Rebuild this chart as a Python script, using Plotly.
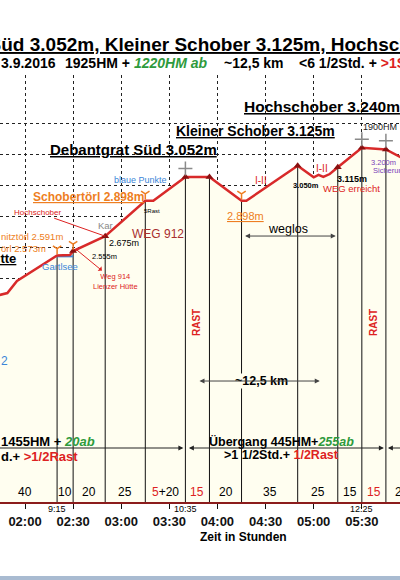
import numpy as np
import plotly.graph_objects as go

# ---------------- data ----------------
profile_min = [100, 109, 115, 140, 148, 150, 170, 195, 200, 220, 235, 255, 258,
               290, 300, 303, 306, 310, 315, 330, 345, 356]
profile_elev = [2280, 2303, 2381, 2545, 2548, 2574, 2670, 2898, 2898, 3052, 3052,
                2898, 2898, 3125, 3050, 3065, 3052, 3071, 3115, 3240, 3230, 3170]

walk_start_min = 100
segment_minutes = [40, 10, 20, 25, 25, 15, 20, 35, 25, 15, 15, 20]
segment_labels = ["40", "10", "20", "25", "5+20", "15", "20", "35", "25", "15", "15", "20"]
rest_segments = [5, 10]

tick_minutes = [120, 150, 180, 210, 240, 270, 300, 330, 360]
tick_labels = ["02:00", "02:30", "03:00", "03:30", "04:00", "04:30", "05:00", "05:30", "06:00"]

clock_minutes = [140, 220, 330]
clock_labels = ["9:15", "10:35", "12:25"]

grid_elev = [2400, 2600, 2800, 3000, 3200, 3400]

marker_minutes = [150, 170, 220, 235, 290, 315, 330, 345]
summit_cross_minutes = [220, 330, 345]
sign_minutes = [140, 150, 195, 255]
lake_minutes = [140, 150]
lake_elev = [2540, 2540]

ascent_span = [95, 220]
traverse_span = [220, 345]
descent_span = [345, 375]
weglos_span = [255, 315]
distance_span = [226.6, 305]

# ---------------- styling ----------------
FONT = "Liberation Sans, Arial, sans-serif"
RED_LINE = "#D82A2A"
RED_TXT = "#DD2222"
DARK_RED = "#A82E2E"
ORANGE = "#EE7E22"
GREEN = "#2E9A3C"
BLUE = "#3C86D8"
PURPLE = "#7A3FB8"
CREAM = "#FFFEF0"

X_LO, X_HI = 104.41, 353.79
Y_LO, Y_HI = 955, 3710
W, H = 400, 580
TOP, BOT = 75, 502


def P(px, py):
    return px / W, (BOT - py) / (BOT - TOP)


def tx(t):
    return (t - X_LO) / (X_HI - X_LO)


def elev_at(t):
    return float(np.interp(t, profile_min, profile_elev))


bounds = list(walk_start_min + np.cumsum([0] + segment_minutes))

fig = go.Figure()

# fill under profile
fig.add_trace(go.Scatter(x=profile_min, y=profile_elev, mode="lines",
                         line=dict(width=0), fill="tozeroy", fillcolor=CREAM,
                         hoverinfo="skip", showlegend=False))

# vertical segment boundaries
vx, vy = [], []
for b in bounds:
    vx += [b, b, None]
    vy += [elev_at(b), 0, None]
fig.add_trace(go.Scatter(x=vx, y=vy, mode="lines", line=dict(color="#111", width=1),
                         hoverinfo="skip", showlegend=False))

# lake
fig.add_trace(go.Scatter(x=lake_minutes, y=lake_elev, mode="lines",
                         line=dict(color=BLUE, width=2), showlegend=False))

# profile line
fig.add_trace(go.Scatter(x=profile_min, y=profile_elev, mode="lines",
                         line=dict(color=RED_LINE, width=2.5), showlegend=False))

# markers
fig.add_trace(go.Scatter(x=marker_minutes, y=[elev_at(t) for t in marker_minutes],
                         mode="markers",
                         marker=dict(symbol="triangle-up", size=7, color="#8A1010"),
                         showlegend=False))

# summit crosses
fig.add_trace(go.Scatter(x=summit_cross_minutes,
                         y=[elev_at(t) + 55 for t in summit_cross_minutes],
                         mode="markers",
                         marker=dict(symbol="cross-thin-open", size=10, color="#8A8A8A",
                                     line=dict(color="#8A8A8A", width=1.5)),
                         showlegend=False))

# signposts
fig.add_trace(go.Scatter(x=sign_minutes, y=[elev_at(t) + 45 for t in sign_minutes],
                         mode="markers",
                         marker=dict(symbol="y-down-open", size=7, color=ORANGE,
                                     line=dict(color=ORANGE, width=1.5)),
                         showlegend=False))

anns = []


def label(text, px, py, size, color="#000", anchor="center", angle=0, bg=None):
    x, y = P(px, py)
    d = dict(text=text, x=x, y=y, xref="paper", yref="paper", showarrow=False,
             xanchor=anchor, yanchor="middle", textangle=angle, borderpad=0,
             font=dict(family=FONT, size=size, color=color))
    if bg:
        d["bgcolor"] = bg
    anns.append(d)


# titles
label("<b><u>Debantgrat Süd 3.052m, Kleiner Schober 3.125m, Hochschober 3.240m</u></b>",
      -118, 45, 19, anchor="left")
label("<b>3.9.2016</b>", 0, 63, 14, anchor="left")
label("<b>1925HM + <i><span style='color:%s'>1220HM ab</span></i></b>" % GREEN,
      64, 63, 14, anchor="left")
label("<b>~12,5 km</b>", 223, 63, 14, anchor="left")
label("<b>&lt;6 1/2Std. + <span style='color:%s'>&gt;1Std. Rast</span></b>" % RED_TXT,
      298, 63, 14, anchor="left")

# summit labels
label("<b><u>Hochschober 3.240m</u></b>", 243, 107, 15.5, anchor="left")
label("1900HM", 362, 127, 9, color="#222", anchor="left")
label("<b><u>Kleiner Schober 3.125m</u></b>", 175, 131, 14, anchor="left")
label("<b><u>Debantgrat Süd 3.052m</u></b>", 49, 149, 15, anchor="left")
label("blaue Punkte", 140, 180, 9, color=BLUE)
label("<b><u>Schobertörl 2.898m</u></b>", 32, 197, 12, color=ORANGE, anchor="left")
label("Kar", 105, 226, 9.5, color="#888")
label("2.675m", 124, 243, 9)
label("WEG 912", 158, 234, 12, color=DARK_RED)
label("5Rast", 152, 211, 6)
label("nitztörl 2.591m", 0, 236, 9.5, color=ORANGE, anchor="left")
label("örl 2.573m", 0, 248, 9.5, color=ORANGE, anchor="left")
label("<b><u>Lienzer Hütte</u></b>", 17, 258, 13, anchor="right")
label("2.555m", 104, 256, 7.5)
label("Gartlsee", 60, 266, 9.5, color=BLUE)
label("2", 0, 361, 12, color=BLUE, anchor="left")
label("I-II", 261, 180, 10, color=RED_TXT)
label("I-II", 322, 168, 10, color=RED_TXT)
label("<u>2.898m</u>", 245, 216, 11, color=ORANGE)
label("weglos", 288, 229, 12.5)
label("<b>3.050m</b>", 306, 185, 7.5)
label("<b>3.115m</b>", 352, 179, 9)
label("WEG erreicht", 351, 188, 9.5, color=RED_TXT)
label("3.200m", 383, 162, 7.5, color=PURPLE)
label("Sicherungen", 372, 170, 7.5, color=PURPLE, anchor="left")
label("<b>RAST</b>", 196, 323, 10, color=RED_TXT, angle=-90)
label("<b>RAST</b>", 373, 323, 10, color=RED_TXT, angle=-90)
label("<b>~12,5 km</b>", 261, 381, 12.5, bg=CREAM)

# bottom summary
label("<b>1455HM + <i><span style='color:%s'>20ab</span></i></b>" % GREEN, 0, 441, 13, anchor="left")
label("<b>d.+ <span style='color:%s'>&gt;1/2Rast</span></b>" % RED_TXT, 0, 456, 13, anchor="left")
label("<b>Übergang 445HM+<i><span style='color:%s'>255ab</span></i></b>" % GREEN, 208, 441, 12.5, anchor="left")
label("<b>&gt;1 1/2Std.+ <span style='color:%s'>1/2Rast</span></b>" % RED_TXT, 223, 455, 12.5, anchor="left")
label("<b>Zeit in Stunden</b>", 243, 537, 12)

# durations
for i, lab in enumerate(segment_labels):
    c = (bounds[i] + bounds[i + 1]) / 2
    col = RED_TXT if i in rest_segments else "#000"
    text = lab
    if lab == "5+20":
        text = "<span style='color:%s'>5</span>+20" % RED_TXT
    anns.append(dict(text=text, x=tx(c), y=P(0, 492)[1], xref="paper", yref="paper",
                     showarrow=False, xanchor="center", yanchor="middle",
                     font=dict(family=FONT, size=12, color=col)))

# clock times
for t, lab in zip(clock_minutes, clock_labels):
    anns.append(dict(text=lab, x=tx(t), y=P(0, 509)[1], xref="paper", yref="paper",
                     showarrow=False, xanchor="center", yanchor="middle",
                     font=dict(family=FONT, size=9, color="#000")))

# leader lines
anns.append(dict(text="Hochschober", x=170, y=elev_at(170), xref="x", yref="y",
                 ax=-68, ay=-24, showarrow=True, arrowhead=0, arrowwidth=1,
                 arrowcolor=RED_TXT, font=dict(family=FONT, size=8, color=RED_TXT)))
anns.append(dict(text="Weg 914<br>Lienzer Hütte", x=152, y=elev_at(152), xref="x", yref="y",
                 ax=39, ay=32, showarrow=True, arrowhead=2, arrowside="start",
                 arrowsize=0.8, arrowwidth=1, arrowcolor=RED_TXT,
                 font=dict(family=FONT, size=7.5, color=RED_TXT)))


def span_arrow(span, yv, yref, side="end+start", color="#444"):
    d = dict(text="", x=span[1], ax=span[0], xref="x", axref="x",
             showarrow=True, arrowhead=2, arrowsize=1, arrowwidth=1,
             arrowcolor=color, arrowside=side, standoff=2, startstandoff=2)
    if yref == "y":
        d.update(y=yv, ay=yv, yref="y", ayref="y")
    else:
        d.update(y=yv, ay=0, yref="paper", ayref="pixel")
    anns.append(d)


span_arrow(weglos_span, 3200 + (154 - 236) / 0.155, "y")
span_arrow(distance_span, 3200 + (154 - 381) / 0.155, "y")
yb = P(0, 448)[1]
span_arrow(ascent_span, yb, "paper", side="end", color="#222")
span_arrow(traverse_span, yb, "paper", color="#222")
anns.append(dict(text="", x=descent_span[0], ax=descent_span[1], xref="x", axref="x",
                 y=yb, ay=0, yref="paper", ayref="pixel", showarrow=True, arrowhead=2,
                 arrowwidth=1, arrowcolor="#222", standoff=2))

fig.update_layout(
    width=W, height=H,
    margin=dict(l=0, r=0, t=TOP, b=H - BOT, pad=0),
    paper_bgcolor="white", plot_bgcolor="white",
    showlegend=False, annotations=anns,
    font=dict(family=FONT),
    shapes=[dict(type="rect", xref="paper", yref="paper", x0=0, x1=1,
                 y0=P(0, 581)[1], y1=P(0, 576)[1], fillcolor="#A9BBD1",
                 line=dict(width=0), layer="above")],
)
fig.update_xaxes(range=[X_LO, X_HI], tickvals=tick_minutes,
                 ticktext=["<b>%s</b>" % s for s in tick_labels],
                 tickfont=dict(family=FONT, size=13, color="#111"),
                 ticks="outside", ticklen=5, tickcolor="#111", tickwidth=1,
                 ticklabelstandoff=1,
                 showgrid=True, gridcolor="#222", griddash="3px,3px", gridwidth=1,
                 showline=True, linecolor="#8B1C1C", linewidth=2, zeroline=False)
fig.update_yaxes(range=[Y_LO, Y_HI], tickvals=grid_elev, showticklabels=False,
                 ticks="", showgrid=True, gridcolor="#222", griddash="3px,3px",
                 gridwidth=1, zeroline=False, showline=False)

fig.write_html("out.html",
               config={"displayModeBar": False},
               post_script="document.body.style.margin='0px';"
                           "document.body.style.overflow='hidden';")
